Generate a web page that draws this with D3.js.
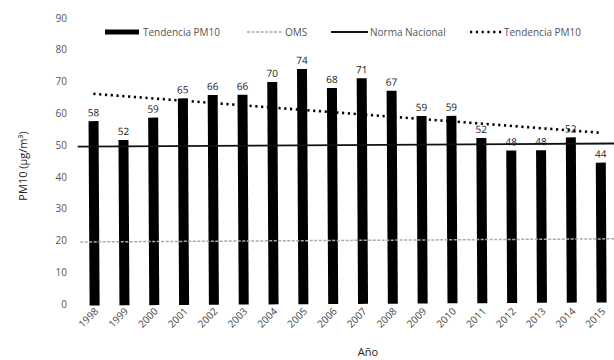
<!DOCTYPE html>
<html>
<head>
<meta charset="utf-8">
<script src="https://cdn.jsdelivr.net/npm/d3@7/dist/d3.min.js"></script>
<style>
body{margin:0;background:#fff;}
text{font-family:"Open Sans","Liberation Sans",sans-serif;}
</style>
</head>
<body>
<svg id="chart" width="614" height="360"></svg>
<script>
const years = ["1998","1999","2000","2001","2002","2003","2004","2005","2006","2007","2008","2009","2010","2011","2012","2013","2014","2015"];
const pm10 = [58,52,59,65,66,66,70,74,68,71,67,59,59,52,48,48,52,44];
const omsLimit = [20,20];
const normaNacional = [50,50];
const trendYears = ["1998","2015"];
const trendValues = [66.6,53.4];
const yTicks = [0,10,20,30,40,50,60,70,80,90];
const legendLabels = ["Tendencia PM10","OMS","Norma Nacional","Tendencia PM10"];

const svg = d3.select("#chart");
const y = d3.scaleLinear().domain([0,90]).range([304,18]);
const x = d3.scalePoint().domain(years).range([94,601]);
const barW = 10;

// y axis (labels only)
const yAxis = d3.axisLeft(y).tickValues(yTicks).tickSize(0).tickPadding(0);
const gy = svg.append("g").attr("transform","translate(67,0)").call(yAxis);
gy.select(".domain").remove();
gy.selectAll("text").attr("font-size",10).attr("fill","#555")
  .attr("font-family","'Open Sans','Liberation Sans',sans-serif");

const plot = svg.append("g").attr("transform","rotate(-0.34,340,200)");

// bars
plot.selectAll("rect.bar").data(pm10).join("rect")
  .attr("class","bar")
  .attr("x",(d,i)=>x(years[i])-barW/2)
  .attr("y",d=>y(d))
  .attr("width",barW)
  .attr("height",d=>y(0)-y(d))
  .attr("fill","#000");

// OMS line
plot.append("line")
  .attr("x1",80).attr("x2",620)
  .attr("y1",y(omsLimit[0])).attr("y2",y(omsLimit[1]))
  .attr("stroke","#aaa").attr("stroke-width",1.5).attr("stroke-dasharray","3,1.5");

// Norma line
plot.append("line")
  .attr("x1",78).attr("x2",620)
  .attr("y1",y(normaNacional[0])).attr("y2",y(normaNacional[1]))
  .attr("stroke","#111").attr("stroke-width",1.8);

// trend
const line = d3.line().x(d=>x(d[0])).y(d=>y(d[1]));
plot.append("path")
  .datum(trendYears.map((t,i)=>[t,trendValues[i]]))
  .attr("d",line)
  .attr("fill","none").attr("stroke","#000").attr("stroke-width",2.6)
  .attr("stroke-dasharray","2.2,3.6");

// value labels
plot.selectAll("text.val").data(pm10).join("text")
  .attr("class","val")
  .attr("x",(d,i)=>x(years[i]))
  .attr("y",d=>y(d)-5)
  .attr("text-anchor","middle")
  .attr("font-size",10).attr("fill","#222")
  .text(d=>d);

// x labels
svg.selectAll("text.xl").data(years).join("text")
  .attr("class","xl")
  .attr("transform",d=>`translate(${x(d)+5},${312}) rotate(-45)`)
  .attr("text-anchor","end")
  .attr("font-size",10).attr("fill","#444")
  .text(d=>d);

// axis titles
svg.append("text")
  .attr("transform","translate(27,166) rotate(-90)")
  .attr("text-anchor","middle").attr("font-size",11).attr("fill","#222")
  .text("PM10 (µg/m³)");
svg.append("text")
  .attr("x",368).attr("y",356)
  .attr("text-anchor","middle").attr("font-size",11).attr("fill","#222")
  .text("Año");

// legend
const leg = svg.append("g");
const ly = 32;
leg.append("line").attr("x1",105).attr("x2",139).attr("y1",ly).attr("y2",ly)
  .attr("stroke","#000").attr("stroke-width",5);
leg.append("line").attr("x1",247).attr("x2",283).attr("y1",ly).attr("y2",ly)
  .attr("stroke","#aaa").attr("stroke-width",1.5).attr("stroke-dasharray","3,1.5");
leg.append("line").attr("x1",331).attr("x2",368).attr("y1",ly).attr("y2",ly)
  .attr("stroke","#111").attr("stroke-width",1.8);
leg.append("line").attr("x1",470).attr("x2",502).attr("y1",ly).attr("y2",ly)
  .attr("stroke","#000").attr("stroke-width",2.6).attr("stroke-dasharray","2.2,3.6");
const lx = [143,285,370,504];
leg.selectAll("text").data(legendLabels).join("text")
  .attr("x",(d,i)=>lx[i]).attr("y",ly+3.5)
  .attr("font-size",10).attr("fill","#555")
  .text(d=>d);
</script>
</body>
</html>
